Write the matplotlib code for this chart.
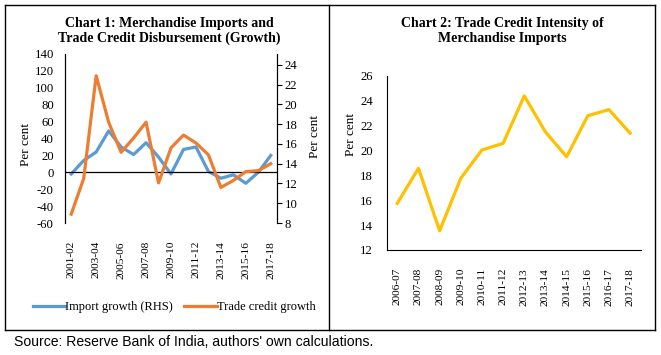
import matplotlib
matplotlib.use("Agg")
import matplotlib.pyplot as plt
from matplotlib.lines import Line2D

years1 = ["2001-02", "2002-03", "2003-04", "2004-05", "2005-06", "2006-07", "2007-08",
          "2008-09", "2009-10", "2010-11", "2011-12", "2012-13", "2013-14", "2014-15",
          "2015-16", "2016-17", "2017-18"]
import_growth = [-2, 14, 24, 49, 30, 21, 35, 18, -2, 27, 30, 1, -7, -3, -13, 0, 20]
trade_credit_growth = [8.9, 12.5, 22.9, 18.2, 15.15, 16.6, 18.2, 12.06, 15.6, 16.9,
                       16.1, 14.9, 11.6, 12.3, 13.2, 13.3, 14.0]

years2 = ["2006-07", "2007-08", "2008-09", "2009-10", "2010-11", "2011-12", "2012-13",
          "2013-14", "2014-15", "2015-16", "2016-17", "2017-18"]
intensity = [15.76, 18.57, 13.55, 17.77, 20.05, 20.58, 24.4, 21.5, 19.5, 22.8, 23.3, 21.4]

W, H = 661, 355
plt.rcParams["font.family"] = "Liberation Serif"
plt.rcParams["axes.unicode_minus"] = False

fig = plt.figure(figsize=(W / 100, H / 100), dpi=100)

def box(l, t, r, b):
    return [l / W, 1 - b / H, (r - l) / W, (b - t) / H]

blue = "#5B9BD5"
orange = "#ED7D31"
gold = "#FFC000"
tick_fs = 9.2

# Chart 1
ax1 = fig.add_axes(box(65, 54, 277, 223))
x1 = list(range(len(years1)))
ax1.plot(x1, import_growth, color=blue, lw=2.3)
ax1.set_xlim(-0.5, len(years1) - 0.5)
ax1.set_ylim(-60, 140)
ax1.set_yticks(range(-60, 141, 20))
ax1.tick_params(axis="y", length=0, labelsize=tick_fs, pad=8)
ax1.axhline(0, color="black", lw=0.9)
ax1.spines["top"].set_visible(False)
ax1.spines["bottom"].set_visible(False)
ax1.set_xticks(x1[::2])
ax1.set_xticklabels(years1[::2], rotation=90, fontsize=8.2)
ax1.tick_params(axis="x", length=0, pad=13)
ax1.set_ylabel("Per cent", fontsize=9.5)
ax1.yaxis.set_label_coords(-0.156, 0.464)

ax1r = ax1.twinx()
ax1r.plot(x1, trade_credit_growth, color=orange, lw=2.3)
ax1r.set_ylim(8, 25.1)
ax1r.set_yticks(range(8, 25, 2))
ax1r.tick_params(axis="y", length=3.5, width=0.8, labelsize=tick_fs, pad=2)
ax1r.spines["top"].set_visible(False)
ax1r.spines["bottom"].set_visible(False)
ax1r.set_ylabel("Per cent", fontsize=9.5)
ax1r.yaxis.set_label_coords(1.151, 0.51)

handles = [Line2D([], [], color=blue, lw=2.3), Line2D([], [], color=orange, lw=2.3)]
fig.legend(handles, ["Import growth (RHS)", "Trade credit growth"], loc="center",
           bbox_to_anchor=(174 / W, 1 - 307 / H), ncol=2, frameon=False,
           fontsize=9, handlelength=2.6, handletextpad=0.0, columnspacing=0.9)

fig.text(169 / W, 1 - 31 / H, "Chart 1: Merchandise Imports and\nTrade Credit Disbursement (Growth)",
         ha="center", va="center", fontsize=10, fontweight="bold", linespacing=1.15)

# Chart 2
ax2 = fig.add_axes(box(386.7, 76, 640.7, 250))
x2 = list(range(len(years2)))
ax2.plot(x2, intensity, color=gold, lw=2.3)
ax2.set_xlim(-0.5, len(years2) - 0.5)
ax2.set_ylim(12, 26)
ax2.set_yticks(range(12, 27, 2))
ax2.spines["top"].set_visible(False)
ax2.spines["right"].set_visible(False)
ax2.set_xticks(x2)
ax2.set_xticklabels(years2, rotation=90, fontsize=8.2)
ax2.tick_params(axis="x", length=0, pad=13)
ax2.tick_params(axis="y", length=0, labelsize=tick_fs, pad=10)
ax2.set_ylabel("Per cent", fontsize=9.5)
ax2.yaxis.set_label_coords(-0.117, 0.661)

fig.text(502 / W, 1 - 31 / H, "Chart 2: Trade Credit Intensity of\nMerchandise Imports",
         ha="center", va="center", fontsize=10, fontweight="bold", linespacing=1.15)

# frame around the two panels
for (xa, ya, xb, yb) in [(5, 5, 655, 5), (5, 330, 655, 330), (5, 5, 5, 330),
                         (655, 5, 655, 330), (329.3, 5, 329.3, 330)]:
    fig.add_artist(Line2D([xa / W, xb / W], [1 - ya / H, 1 - yb / H], color="black", lw=1.0))

fig.text(14 / W, 1 - 342 / H, "Source: Reserve Bank of India, authors' own calculations.",
         ha="left", va="center", fontsize=10.1, family="Liberation Sans")

fig.savefig("out.png", dpi=100)
